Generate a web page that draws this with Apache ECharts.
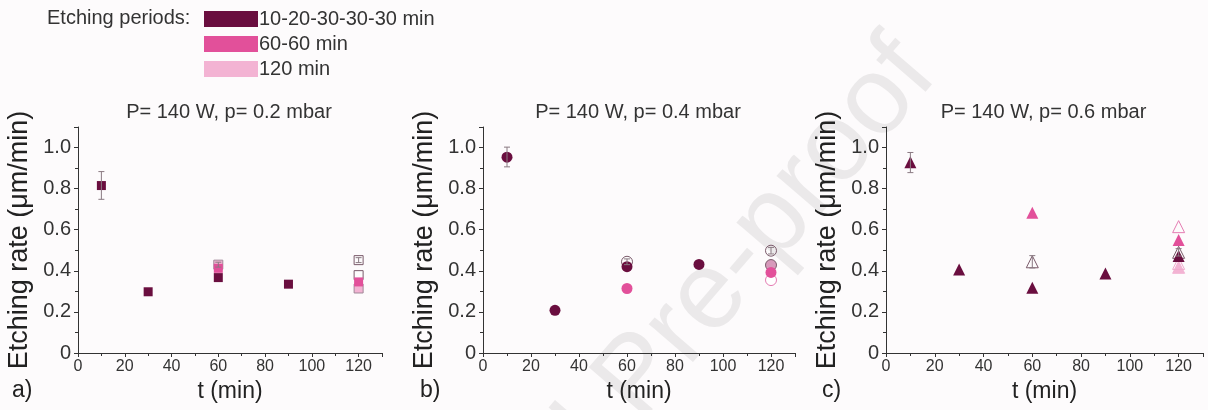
<!DOCTYPE html>
<html>
<head>
<meta charset="utf-8">
<script src="https://cdn.jsdelivr.net/npm/echarts@6/dist/echarts.min.js"></script>
<style>
  html, body { margin: 0; padding: 0; background: #fdfbfc; }
  #chart { width: 1208px; height: 410px; }
</style>
</head>
<body>
<div id="chart"></div>
<script>
// Etching rate vs. total etching time at 140 W for three chamber pressures.
// Each point is [t (min), rate (µm/min)].

const panelTitles = ['P= 140 W, p= 0.2 mbar', 'P= 140 W, p= 0.4 mbar', 'P= 140 W, p= 0.6 mbar'];
const panelLetters = ['a)', 'b)', 'c)'];
const periodNames = ['10-20-30-30-30 min', '60-60 min', '120 min'];
const yTickValues = [0, 0.2, 0.4, 0.6, 0.8, 1.0];

// p = 0.2 mbar (squares)
const a_steps = [[10, 0.815], [30, 0.298], [60, 0.367], [90, 0.335]];
const a_sixty = [[60, 0.412], [120, 0.346]];
const a_single = [[60, 0.430], [120, 0.314]];
const a_openDark = [[120, 0.452], [120, 0.379]];
const a_err = [[10, 0.748, 0.883], [60, 0.418, 0.442], [120, 0.440, 0.464]];

// p = 0.4 mbar (circles)
const b_steps = [[10, 0.953], [30, 0.208], [60, 0.420], [90, 0.431]];
const b_sixty = [[60, 0.314], [120, 0.392]];
const b_single = [[120, 0.428]];
const b_openDark = [[60, 0.444], [120, 0.498]];
const b_openPink = [[120, 0.355]];
const b_err = [[10, 0.906, 1.002], [60, 0.430, 0.458], [120, 0.482, 0.514]];

// p = 0.6 mbar (triangles)
const c_steps = [[10, 0.929], [30, 0.407], [60, 0.317], [90, 0.387], [120, 0.472]];
const c_sixty = [[60, 0.683], [120, 0.550]];
const c_single = [[120, 0.417]];
const c_openDark = [[60, 0.444], [120, 0.490]];
const c_openPink = [[120, 0.615]];
const c_openLight = [[120, 0.436]];
const c_err = [[10, 0.878, 0.976], [60, 0.414, 0.474], [120, 0.472, 0.508]];

const DARK = '#6a0e3f';
const PINK = '#e2509a';
const LIGHT = '#f3b3d3';
const OPEN_DARK = '#7a5a6a';
const OPEN_PINK = '#e57db3';
const OPEN_LIGHT = '#f0a9cc';
const AXIS = '#333333';
const SANS = "'Liberation Sans', Arial, sans-serif";
const NARROW = "'Liberation Sans Narrow', 'Liberation Sans', sans-serif";

const chart = echarts.init(document.getElementById('chart'), null, { renderer: 'canvas' });

const grids = [
  { left: 78, top: 127, width: 304, height: 226 },
  { left: 483, top: 127, width: 312, height: 226 },
  { left: 886, top: 127, width: 317, height: 226 }
];

function xAxisFor(i) {
  return {
    gridIndex: i, type: 'value', min: 0, max: 130, interval: 20,
    name: 't (min)', nameLocation: 'middle', nameGap: 26,
    nameTextStyle: { fontFamily: NARROW, fontSize: 23, color: '#222' },
    axisLine: { show: true, lineStyle: { color: AXIS, width: 1 } },
    axisTick: { show: true, length: 4, lineStyle: { color: AXIS } },
    minorTick: { show: true, splitNumber: 2, length: 3, lineStyle: { color: AXIS } },
    axisLabel: { showMaxLabel: false, margin: 6, fontFamily: NARROW, fontSize: 16, color: '#333' },
    splitLine: { show: false }
  };
}
function yAxisFor(i) {
  return {
    gridIndex: i, type: 'value', min: 0, max: 1.1, interval: 0.2,
    name: 'Etching rate (μm/min)', nameLocation: 'middle', nameGap: 45,
    nameTextStyle: { fontFamily: SANS, fontSize: 27, color: '#222' },
    axisLine: { show: true, lineStyle: { color: AXIS, width: 1 } },
    axisTick: { show: true, length: 4, lineStyle: { color: AXIS } },
    minorTick: { show: true, splitNumber: 2, length: 3, lineStyle: { color: AXIS } },
    axisLabel: {
      showMaxLabel: false, margin: 7,
      fontFamily: SANS, fontSize: 20, color: '#333',
      formatter: v => (yTickValues.some(t => Math.abs(t - v) < 1e-6) ? (v === 0 ? '0' : v.toFixed(1)) : '')
    },
    splitLine: { show: false }
  };
}

function scatter(name, data, i, symbol, size, fill, border, z) {
  return {
    name, type: 'scatter', xAxisIndex: i, yAxisIndex: i, data,
    symbol, symbolSize: size, z: z || 3,
    itemStyle: { color: fill, borderColor: border || fill, borderWidth: border ? 1 : 0, opacity: 1 },
    emphasis: { disabled: true }
  };
}

function errorBars(data, i) {
  return {
    type: 'custom', xAxisIndex: i, yAxisIndex: i, data, z: 4, silent: true,
    renderItem: (params, api) => {
      const x = api.value(0);
      const lo = api.coord([x, api.value(1)]);
      const hi = api.coord([x, api.value(2)]);
      const cap = 3;
      const style = { stroke: '#8a7a82', lineWidth: 1 };
      return {
        type: 'group',
        children: [
          { type: 'line', shape: { x1: lo[0], y1: lo[1], x2: hi[0], y2: hi[1] }, style },
          { type: 'line', shape: { x1: lo[0] - cap, y1: lo[1], x2: lo[0] + cap, y2: lo[1] }, style },
          { type: 'line', shape: { x1: hi[0] - cap, y1: hi[1], x2: hi[0] + cap, y2: hi[1] }, style }
        ]
      };
    }
  };
}

const series = [
  // panel a
  scatter(periodNames[0], a_steps, 0, 'rect', 9, DARK),
  scatter('a open', a_openDark, 0, 'rect', 9, 'rgba(255,255,255,0)', OPEN_DARK, 2),
  scatter(periodNames[2], a_single, 0, 'rect', 9, LIGHT, '#a08898', 2),
  scatter(periodNames[1], a_sixty, 0, 'rect', 9, PINK),
  errorBars(a_err, 0),
  // panel b
  scatter('b open', b_openDark, 1, 'circle', 11, 'rgba(255,255,255,0)', OPEN_DARK, 2),
  scatter('b open pink', b_openPink, 1, 'circle', 11, 'rgba(255,255,255,0.9)', OPEN_PINK, 2),
  scatter(periodNames[2], b_single, 1, 'circle', 11, '#d79abb', '#7a5a6a', 2),
  scatter(periodNames[1], b_sixty, 1, 'circle', 11, PINK),
  scatter(periodNames[0], b_steps, 1, 'circle', 11, DARK),
  errorBars(b_err, 1),
  // panel c
  scatter('c open pink', c_openPink, 2, 'triangle', 12, 'rgba(255,255,255,0)', OPEN_PINK, 2),
  scatter(periodNames[2], c_single, 2, 'triangle', 12, LIGHT, LIGHT, 2),
  scatter('c open light', c_openLight, 2, 'triangle', 12, 'rgba(255,255,255,0)', OPEN_LIGHT, 2),
  scatter('c open', c_openDark, 2, 'triangle', 12, 'rgba(255,255,255,0)', OPEN_DARK, 2),
  scatter(periodNames[1], c_sixty, 2, 'triangle', 12, PINK),
  scatter(periodNames[0], c_steps, 2, 'triangle', 12, DARK),
  errorBars(c_err, 2)
];

const graphic = [
  // diagonal "Journal Pre-proof" mark behind the plots
  {
    type: 'text', x: 958, y: 92, rotation: 0.86, z: -10, silent: true,
    style: {
      text: 'Journal Pre-proof', fill: '#ebe9ea', align: 'right', verticalAlign: 'bottom',
      font: "110px 'Liberation Sans', Arial, sans-serif"
    }
  },
  {
    type: 'text', x: 47, y: 18, silent: true,
    style: { text: 'Etching periods:', fill: '#333', verticalAlign: 'middle', font: "20px " + SANS }
  }
];

grids.forEach((g, i) => {
  graphic.push({
    type: 'text', x: g.left + g.width / 2 - 1, y: 112, silent: true,
    style: { text: panelTitles[i], fill: '#333', align: 'center', verticalAlign: 'middle',
      font: "20px " + SANS }
  });
  graphic.push({
    type: 'text', x: [12, 420, 822][i], y: 391, silent: true,
    style: { text: panelLetters[i], fill: '#222', align: 'left', verticalAlign: 'middle',
      font: "23px " + NARROW }
  });
});

chart.setOption({
  backgroundColor: '#fdfbfc',
  animation: false,
  grid: grids,
  xAxis: grids.map((_, i) => xAxisFor(i)),
  yAxis: grids.map((_, i) => yAxisFor(i)),
  legend: {
    orient: 'vertical', left: 204, top: 9, itemWidth: 54, itemHeight: 16, itemGap: 5,
    selectedMode: false, padding: 0,
    textStyle: { fontFamily: SANS, fontSize: 20, color: '#333', padding: [0, 0, 0, -4] },
    data: [
      { name: periodNames[0], icon: 'rect', itemStyle: { color: DARK, borderWidth: 0 } },
      { name: periodNames[1], icon: 'rect', itemStyle: { color: PINK, borderWidth: 0 } },
      { name: periodNames[2], icon: 'rect', itemStyle: { color: LIGHT, borderWidth: 0 } }
    ]
  },
  graphic,
  series
});
</script>
</body>
</html>
